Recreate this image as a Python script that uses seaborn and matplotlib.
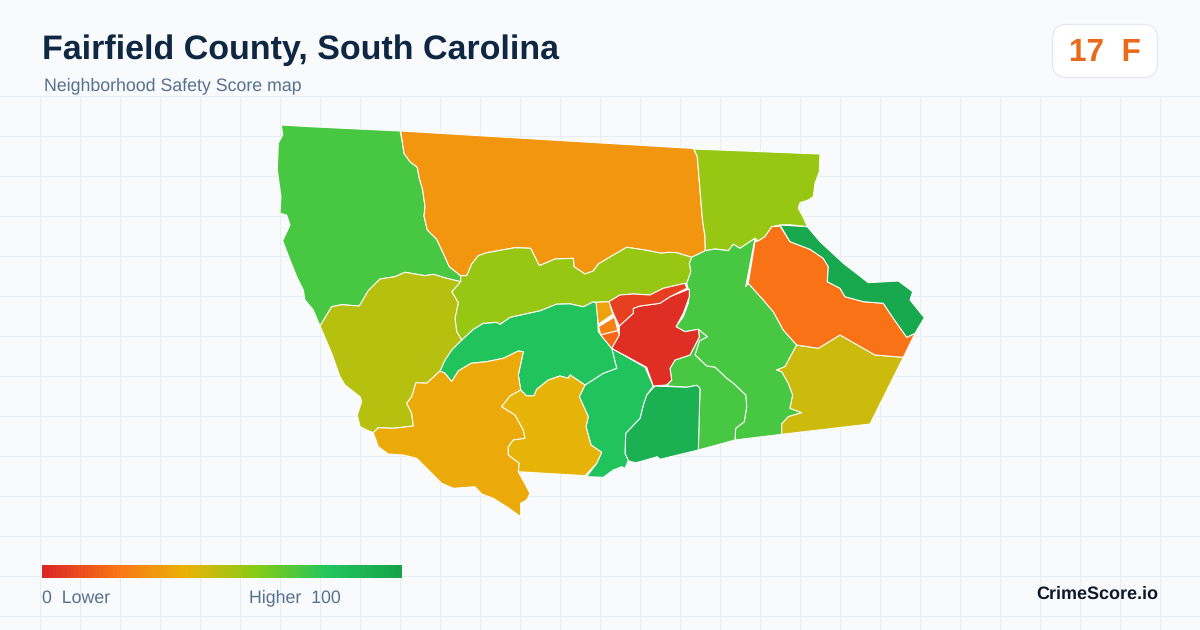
import numpy as np
import matplotlib
matplotlib.use("Agg")
import matplotlib.pyplot as plt
from matplotlib.collections import PolyCollection
from matplotlib.patches import FancyBboxPatch
import seaborn as sns

# ---------- chart text ----------
TITLE = "Fairfield County, South Carolina"
SUBTITLE = "Neighborhood Safety Score map"
GRADE = "17  F"
BRAND = "CrimeScore.io"
LEGEND_LOW = "0  Lower"
LEGEND_HIGH = "Higher  100"

# ---------- colour ramp ----------
RAMP = ["#dc2626", "#f97316", "#eab308", "#84cc16", "#22c55e", "#16a34a"]
LEGEND_VALUES = list(range(0, 101))

NW = [(281.3,125),(310,126.7),(400,131),(402.3,141.7),(404,153.3),(410,161.7),(417.3,167.3),(419.3,178.3),(422.7,190),(425,206.7),(424,216),(427.3,230),(436.7,239.3),(443.3,253.3),(449.3,266.7),(460.7,275.7),(460.7,281.7),(446.7,278.3),(433.3,274.3),(425,275.7),(405,272.3),(395,276.7),(380,279),(368.3,290.7),(359.3,306),(341.7,304.7),(331.7,306.7),(320,326),(313.3,310),(305,300),(303.3,290),(296.7,276.7),(290,260),(282.7,240.7),(290,225),(286.7,215),(280,213.3),(281,196.7),(277.3,170),(278.3,143.3),(282.7,135)]
NORTH = [(400.7,131),(693.5,148.5),(697.3,156.7),(700,190),(702.3,218.3),(705,236.7),(705.3,250.7),(691.7,257.3),(676.7,252.7),(668.3,252.3),(661.7,253.3),(645,250),(626.7,247.3),(613.3,255),(598.3,264),(593.3,271),(585,274),(574,266.7),(573.3,258.3),(555,259),(539.3,265.7),(530.7,248.3),(515,247.7),(486.7,252.7),(478.3,255.7),(471.7,264),(466.7,275.7),(460.7,275.7),(449.3,266.7),(443.3,253.3),(436.7,239.3),(427.3,230),(424,216),(425,206.7),(422.7,190),(419.3,178.3),(417.3,167.3),(410,161.7),(404,153.3),(402.3,141.7)]
NE = [(694,149),(820,154),(819.3,171.7),(815,183.3),(813.3,196.7),(808.3,200),(800,202.7),(798.3,208.3),(803.3,217.3),(807.3,226.7),(790,224.7),(780,225),(771.7,226.7),(765,236.7),(758.3,241),(755,238.3),(740,248.3),(733.3,244.3),(728.3,250.7),(715,249),(705.3,250.7),(705,236.7),(702.3,218.3),(700,190),(697.3,156.7)]
CENTRE_EAST = [(705.3,250.7),(691.7,257.3),(689.3,263.3),(690.7,271.7),(686.7,283.3),(689.3,293.3),(688.3,303.3),(683.3,316.7),(676,326.7),(685,331.7),(698.3,329.3),(707.3,336.7),(699.3,341),(695,355),(706.7,366),(715,367.3),(726.7,378.3),(733.3,383.3),(745.7,395),(746.7,406.7),(744.3,421.7),(735.7,428.3),(735,440),(781.7,434.3),(781.7,424),(788.3,416.7),(801.7,412.7),(790,408.3),(792.7,395),(788.3,383.3),(781.7,371.7),(776.7,370),(785,366.7),(796.7,345),(783.3,330),(773.3,311.7),(763.3,300),(748.3,283.3),(745.7,286.7),(755,238.3),(740,248.3),(733.3,244.3),(728.3,250.7),(715,249)]
SOUTH_CENTRE = [(698.3,329.3),(707.3,336.7),(699.3,341),(695,355),(706.7,366),(715,367.3),(726.7,378.3),(733.3,383.3),(745.7,395),(746.7,406.7),(744.3,421.7),(735.7,428.3),(735,440),(698.3,450),(699.3,413.3),(700,388.3),(696.7,385.3),(686.7,387.3),(668.3,386),(667.3,385),(671.7,380),(670,368.3),(675,360),(690,355),(699.3,337)]
SOUTH_DARK = [(655,386),(686.7,387.3),(696.7,385.3),(700,388.3),(699.3,413.3),(698.3,450),(660,459.3),(657.3,456.7),(640,461.7),(635,462.7),(628.3,460.7),(625,453.3),(625.7,433.3),(640,418.3),(643.3,405),(646.7,395)]
SOUTH_TEAL = [(611.7,348.3),(645,367.3),(653.3,386),(646.7,395),(643.3,405),(640,418.3),(625.7,433.3),(625,453.3),(628.3,460.7),(625,468.3),(621.7,466.7),(613.3,470),(603.3,477.3),(586.7,476.7),(596.7,463.3),(601.7,452.3),(591,445),(586,426.7),(588.3,416.7),(579.3,396.7),(585,385),(603.3,373.3),(616.7,368.3)]
MID_TEAL = [(440,371),(445,360),(451.7,350),(461.7,340),(473.3,329.3),(483.3,323.3),(496.7,322.3),(500,324.3),(510,317.3),(540,310.7),(556.7,304),(570,303.7),(583.3,306.7),(593.3,301.7),(596.7,303.3),(598.3,331.7),(611.7,348.3),(616.7,368.3),(603.3,373.3),(585,385),(570,375),(568.3,378.3),(560,376),(548.3,380),(536.7,389.3),(534,395.7),(526.7,396),(520.7,390),(518.3,375),(523.3,351.7),(518.3,351),(503.3,358.3),(486.7,361.7),(471,363.3),(458.3,371),(451.7,381.7),(445,373.3)]
MID_LIME = [(460.7,281.7),(451.7,291.7),(458.3,302.7),(455,318.3),(456.7,331.7),(461.7,340),(473.3,329.3),(483.3,323.3),(496.7,322.3),(500,324.3),(510,317.3),(540,310.7),(556.7,304),(570,303.7),(583.3,306.7),(593.3,301.7),(596,302.3),(609,301.7),(620,295),(633.3,294),(650,295),(663.3,288.3),(685,283.3),(686.7,283.3),(690.7,271.7),(689.3,263.3),(691.7,257.3),(676.7,252.7),(668.3,252.3),(661.7,253.3),(645,250),(626.7,247.3),(613.3,255),(598.3,264),(593.3,271),(585,274),(574,266.7),(573.3,258.3),(555,259),(539.3,265.7),(530.7,248.3),(515,247.7),(486.7,252.7),(478.3,255.7),(471.7,264),(466.7,275.7),(460.7,275.7)]
WEST_OLIVE = [(320,326),(331.7,306.7),(341.7,304.7),(359.3,306),(368.3,290.7),(380,279),(395,276.7),(405,272.3),(425,275.7),(433.3,274.3),(446.7,278.3),(460.7,281.7),(451.7,291.7),(458.3,302.7),(455,318.3),(456.7,331.7),(461.7,340),(451.7,350),(445,360),(440,371),(426.7,383.3),(416,382.7),(411.7,396.7),(406.7,403.3),(411.7,413.3),(413.3,426),(393.3,428.3),(378.3,427.7),(373.3,432.7),(366.7,430),(360,426.7),(357.3,415),(361.7,401.7),(360,396.7),(345,385),(340,376.7),(331.7,353.3)]
SW_AMBER = [(373.3,432.7),(378.3,427.7),(393.3,428.3),(413.3,426),(411.7,413.3),(406.7,403.3),(411.7,396.7),(416,382.7),(426.7,383.3),(440,371),(445,373.3),(451.7,381.7),(458.3,371),(471,363.3),(486.7,361.7),(503.3,358.3),(518.3,351),(523.3,351.7),(518.3,375),(520.7,390),(510,396),(501.7,406.7),(515,415),(523.3,430),(525,438.3),(513.3,440),(508.3,446.7),(508.3,455),(519.3,463.3),(518.3,471.7),(530,493.3),(526.7,500),(520.7,503.3),(520.7,516.7),(506.7,506.7),(493.3,498.3),(481.7,494),(475,486.7),(453.3,488.3),(441.7,483.3),(426.7,468.3),(416.7,458.3),(403.3,455),(388.3,454),(378.3,446.7)]
YELLOW = [(520.7,390),(526.7,396),(534,395.7),(536.7,389.3),(548.3,380),(560,376),(568.3,378.3),(570,375),(585,385),(579.3,396.7),(588.3,416.7),(586,426.7),(591,445),(601.7,452.3),(596.7,463.3),(585,475.7),(518.3,471.7),(519.3,463.3),(508.3,455),(508.3,446.7),(513.3,440),(525,438.3),(523.3,430),(515,415),(501.7,406.7),(510,396)]
SE_OLIVE = [(781.7,434.3),(870,424),(903.3,357.3),(875,355),(840,335),(818.3,348.3),(796.7,345),(785,366.7),(776.7,370),(781.7,371.7),(788.3,383.3),(792.7,395),(790,408.3),(801.7,412.7),(788.3,416.7),(781.7,424)]
EAST_ORANGE = [(771.7,226.7),(780,226),(790,241.7),(810,249.3),(823.3,258.3),(828.3,266.7),(827.3,281.7),(840,288.3),(845,296.7),(863.3,301.7),(883.3,303.3),(893.3,318.3),(906.7,337.3),(915,333.3),(903.3,357.3),(875,355),(840,335),(818.3,348.3),(796.7,345),(783.3,330),(773.3,311.7),(763.3,300),(748.3,283.3),(755,241.7),(758.3,241),(765,236.7)]
EAST_DARK = [(780,225),(807.3,226.7),(820,241.7),(843.3,263.3),(868.3,282.7),(898.3,281),(912.7,291.7),(910,300),(924.3,317.7),(915,333.3),(906.7,337.3),(893.3,318.3),(883.3,303.3),(863.3,301.7),(845,296.7),(840,288.3),(827.3,281.7),(828.3,266.7),(823.3,258.3),(810,249.3),(790,241.7)]
RED_BIG = [(611.7,348.3),(619.3,335),(619.3,326),(633.3,313.3),(633.3,308.3),(640,306),(660,303.3),(670,296.7),(689.3,289),(689.3,296.7),(683.3,313.3),(676,326.7),(685,331.7),(698.3,329.3),(699.3,337),(690,355),(675,360),(670,368.3),(671.7,380),(666.7,385),(653.3,386),(646.7,367.3)]
RED_TOP = [(609,301.7),(620,295),(633.3,294),(650,295),(663.3,288.3),(685,283.3),(686.7,288.3),(670,296.7),(660,303.3),(640,306),(633.3,308.3),(633.3,313.3),(619.3,326),(613.3,313.3)]
SMALL_AMBER = [(596,302.3),(609,301.7),(612.7,314.3),(598.3,324.3)]
SMALL_ORANGE = [(598.6,326.7),(614.5,317),(617.7,330.7),(600.7,335)]
SMALL_RED_ORANGE = [(600.7,335),(617.7,330.7),(619.3,335),(611.7,348.3)]

REGIONS = [NW, NORTH, NE, CENTRE_EAST, SOUTH_CENTRE, SOUTH_DARK, SOUTH_TEAL, MID_TEAL, MID_LIME,
           WEST_OLIVE, SW_AMBER, YELLOW, SE_OLIVE, EAST_ORANGE, EAST_DARK, RED_BIG, RED_TOP,
           SMALL_AMBER, SMALL_ORANGE, SMALL_RED_ORANGE]
SCORES = [72, 31, 56, 72, 72, 92, 81, 81, 56, 50, 37, 41, 46, 20, 97, 2, 7, 35, 25, 17]

# ---------- style ----------
BG = "#f8fafc"
GRID = "#e6edf3"
sns.set_theme(style="whitegrid", rc={
    "figure.facecolor": BG, "axes.facecolor": BG, "grid.color": GRID, "grid.linewidth": 0.72,
    "axes.axisbelow": True, "text.hinting": "no_hinting",
})
plt.rcParams["font.family"] = ["Liberation Sans", "DejaVu Sans"]
cmap = sns.blend_palette(RAMP, n_colors=256, as_cmap=True)

W, H = 1200, 630
fig = plt.figure(figsize=(W / 100, H / 100), dpi=100)

# map axes: one data unit is one pixel, grid starts below the header
top = 96
ax = fig.add_axes([0, 0, 1, (H - top) / H])
ax.set_xlim(0, W)
ax.set_ylim(H, top)
ax.set_xticks(np.arange(40, W, 40))
ax.set_yticks(np.arange(top, H, 40))
ax.tick_params(length=0, labelbottom=False, labelleft=False)
ax.grid(True)
for s in ax.spines.values():
    s.set_visible(False)
for gl in ax.get_ygridlines() + ax.get_xgridlines():
    gl.set_clip_on(False)

polys = PolyCollection(REGIONS, array=np.array(SCORES, float), cmap=cmap, clim=(0, 100),
                       edgecolors="white", linewidths=0.75, zorder=3)
ax.add_collection(polys)

# legend ramp
bar = fig.add_axes([42 / W, 1 - 578 / H, 360 / W, 13 / H])
sns.heatmap(np.array(LEGEND_VALUES, float).reshape(1, -1), ax=bar, cmap=cmap, vmin=0, vmax=100,
            cbar=False, xticklabels=False, yticklabels=False, rasterized=True)
bar.set_xlabel(""); bar.set_ylabel("")

# overlay for header and labels (pixel coordinates)
ov = fig.add_axes([0, 0, 1, 1], facecolor="none")
ov.set_xlim(0, W); ov.set_ylim(H, 0); ov.axis("off")

ov.text(42, 50, TITLE, fontsize=24.5, fontweight="bold", color="#0f2742", va="center", ha="left")
ov.text(44, 86, SUBTITLE, fontsize=12.8, color="#56708f", va="center", ha="left")

ov.add_patch(FancyBboxPatch((1052.5, 24.5), 105, 53, boxstyle="round,pad=0,rounding_size=14",
                            fc="white", ec="#e2e8f0", lw=0.9))
ov.text(1105, 53, GRADE, fontsize=22.7, fontweight="bold", color="#ea6a1c", va="center", ha="center")

ov.text(42, 598, LEGEND_LOW, fontsize=12.8, color="#56708f", va="center", ha="left")
ov.text(249, 598, LEGEND_HIGH, fontsize=12.8, color="#56708f", va="center", ha="left")
ov.text(1158.5, 594, BRAND, fontsize=13, fontweight="bold", color="#0f172a", va="center", ha="right")

fig.savefig("out.png", dpi=100, facecolor=BG)
